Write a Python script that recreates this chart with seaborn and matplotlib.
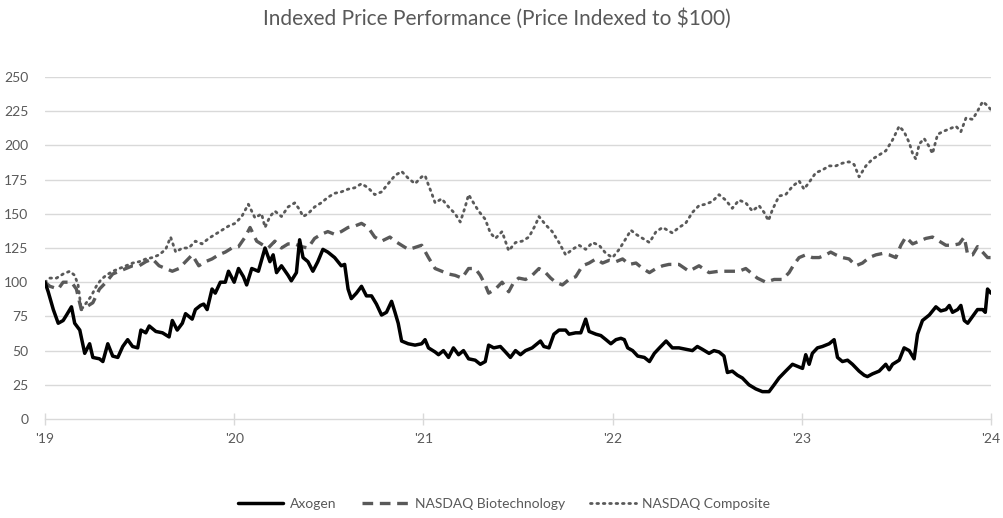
## import libraries
import pandas as pd
import numpy as np
import matplotlib
matplotlib.use('Agg')
import matplotlib.pyplot as plt
import seaborn as sns

## config.
sns.set_theme(style='white')
plt.rcParams['font.family'] = ['Lato', 'DejaVu Sans']
GREY = '#595959'
GRID = '#d9d9d9'

## data -- t = years since 1 Jan 2019
axogen_t = [0.000, 0.017, 0.044, 0.070, 0.096, 0.114, 0.140, 0.157, 0.184, 0.210, 0.236, 0.253,
            0.288, 0.306, 0.332, 0.358, 0.385, 0.411, 0.437, 0.463, 0.490, 0.507, 0.533, 0.551,
            0.586, 0.621, 0.656, 0.673, 0.699, 0.726, 0.743, 0.778, 0.795, 0.822, 0.839, 0.857,
            0.883, 0.900, 0.927, 0.953, 0.970, 1.000, 1.023, 1.049, 1.066, 1.093, 1.128, 1.163,
            1.189, 1.206, 1.224, 1.250, 1.285, 1.302, 1.329, 1.346, 1.364, 1.390, 1.416, 1.442,
            1.469, 1.495, 1.531, 1.566, 1.584, 1.602, 1.619, 1.646, 1.673, 1.699, 1.726, 1.752,
            1.779, 1.805, 1.832, 1.850, 1.867, 1.885, 1.920, 1.956, 1.991, 2.009, 2.027, 2.062,
            2.080, 2.106, 2.133, 2.159, 2.186, 2.212, 2.239, 2.274, 2.301, 2.327, 2.345, 2.372,
            2.407, 2.434, 2.460, 2.487, 2.513, 2.540, 2.575, 2.619, 2.637, 2.664, 2.690, 2.717,
            2.752, 2.770, 2.805, 2.832, 2.858, 2.876, 2.912, 2.938, 2.965, 2.991, 3.018, 3.044,
            3.062, 3.080, 3.106, 3.133, 3.168, 3.195, 3.221, 3.248, 3.283, 3.316, 3.351, 3.386,
            3.422, 3.448, 3.474, 3.510, 3.536, 3.563, 3.589, 3.607, 3.633, 3.660, 3.686, 3.721,
            3.757, 3.792, 3.827, 3.854, 3.880, 3.915, 3.951, 3.986, 4.004, 4.021, 4.039, 4.056,
            4.083, 4.109, 4.145, 4.171, 4.189, 4.215, 4.242, 4.268, 4.303, 4.330, 4.347, 4.374,
            4.409, 4.444, 4.462, 4.480, 4.515, 4.541, 4.568, 4.594, 4.612, 4.638, 4.674, 4.709,
            4.735, 4.762, 4.780, 4.797, 4.824, 4.841, 4.859, 4.877, 4.903, 4.929, 4.956, 4.970,
            4.982, 5.000]
axogen = [100, 93, 80, 70, 72, 76, 82, 70, 65, 48, 55, 45,
          44, 42, 55, 46, 45, 53, 58, 53, 52, 65, 63, 68,
          64, 63, 60, 72, 65, 70, 77, 73, 80, 83, 84, 80,
          95, 92, 100, 100, 108, 100, 110, 104, 98, 110, 108, 125,
          115, 120, 107, 112, 105, 101, 107, 131, 118, 115, 108, 115,
          124, 122, 118, 112, 113, 95, 88, 92, 97, 90, 90, 84,
          76, 78, 86, 78, 70, 57, 55, 54, 55, 58, 52, 49,
          47, 50, 45, 52, 47, 50, 44, 43, 40, 42, 54, 52,
          53, 49, 45, 50, 47, 50, 52, 57, 53, 52, 62, 65,
          65, 62, 63, 63, 73, 64, 62, 61, 58, 55, 58, 59,
          58, 52, 50, 46, 45, 42, 48, 52, 57, 52, 52, 51,
          50, 53, 51, 48, 50, 49, 46, 34, 35, 32, 30, 25,
          22, 20, 20, 25, 30, 35, 40, 38, 37, 47, 40, 48,
          52, 53, 55, 58, 45, 42, 43, 40, 35, 32, 31, 33,
          35, 40, 36, 40, 43, 52, 50, 44, 62, 72, 76, 82,
          79, 80, 83, 78, 80, 83, 72, 70, 75, 80, 80, 78,
          95, 92]

biotech_t = [0.000, 0.026, 0.070, 0.096, 0.140, 0.166, 0.192, 0.219, 0.253, 0.288, 0.323, 0.358,
             0.393, 0.428, 0.463, 0.498, 0.533, 0.568, 0.603, 0.638, 0.673, 0.708, 0.743, 0.778,
             0.813, 0.848, 0.883, 0.918, 0.953, 0.988, 1.023, 1.058, 1.084, 1.119, 1.154, 1.180,
             1.215, 1.250, 1.285, 1.320, 1.355, 1.390, 1.425, 1.460, 1.495, 1.531, 1.566, 1.602,
             1.637, 1.673, 1.708, 1.743, 1.779, 1.823, 1.850, 1.885, 1.920, 1.947, 1.991, 2.027,
             2.062, 2.097, 2.133, 2.168, 2.204, 2.239, 2.274, 2.301, 2.327, 2.345, 2.381, 2.416,
             2.451, 2.478, 2.504, 2.540, 2.575, 2.611, 2.646, 2.673, 2.699, 2.735, 2.770, 2.805,
             2.841, 2.876, 2.912, 2.947, 2.982, 3.018, 3.053, 3.088, 3.124, 3.159, 3.195, 3.230,
             3.265, 3.298, 3.351, 3.404, 3.457, 3.510, 3.563, 3.616, 3.668, 3.704, 3.730, 3.765,
             3.810, 3.854, 3.898, 3.933, 3.959, 3.986, 4.021, 4.056, 4.092, 4.127, 4.153, 4.180,
             4.215, 4.250, 4.286, 4.321, 4.356, 4.392, 4.427, 4.462, 4.497, 4.524, 4.550, 4.586,
             4.621, 4.656, 4.691, 4.727, 4.762, 4.797, 4.832, 4.859, 4.877, 4.903, 4.929, 4.956,
             4.982, 5.000]
biotech = [100, 97, 95, 100, 100, 95, 80, 82, 85, 95, 100, 106,
           108, 110, 112, 112, 115, 117, 112, 110, 108, 110, 115, 120,
           112, 115, 117, 120, 122, 125, 126, 133, 140, 130, 127, 125,
           130, 125, 128, 128, 126, 125, 132, 135, 137, 135, 137, 140,
           141, 143, 140, 133, 130, 133, 130, 127, 124, 125, 127, 118,
           110, 108, 106, 105, 103, 110, 110, 105, 98, 92, 95, 100,
           93, 100, 103, 102, 105, 110, 107, 103, 100, 98, 102, 104,
           112, 114, 117, 114, 116, 115, 117, 113, 114, 110, 107, 110,
           112, 113, 113, 108, 112, 107, 108, 108, 108, 110, 107, 103,
           100, 102, 102, 107, 113, 118, 120, 118, 118, 120, 122, 120,
           118, 117, 112, 114, 118, 120, 121, 120, 118, 127, 133, 128,
           130, 132, 133, 130, 127, 127, 128, 133, 120, 120, 126, 122,
           118, 118]

composite_t = [0.000, 0.026, 0.061, 0.096, 0.131, 0.157, 0.175, 0.192, 0.219, 0.245, 0.271, 0.297,
               0.323, 0.358, 0.393, 0.428, 0.463, 0.498, 0.533, 0.568, 0.603, 0.638, 0.664, 0.691,
               0.726, 0.760, 0.795, 0.830, 0.865, 0.900, 0.935, 0.970, 1.005, 1.040, 1.075, 1.110,
               1.145, 1.163, 1.189, 1.215, 1.250, 1.285, 1.320, 1.346, 1.364, 1.390, 1.425, 1.460,
               1.495, 1.531, 1.566, 1.602, 1.637, 1.673, 1.708, 1.743, 1.779, 1.814, 1.850, 1.885,
               1.920, 1.956, 1.991, 2.009, 2.027, 2.044, 2.062, 2.097, 2.133, 2.168, 2.195, 2.221,
               2.239, 2.265, 2.292, 2.327, 2.354, 2.381, 2.416, 2.451, 2.487, 2.522, 2.558, 2.593,
               2.611, 2.646, 2.681, 2.717, 2.752, 2.788, 2.823, 2.858, 2.894, 2.929, 2.965, 3.000,
               3.035, 3.071, 3.097, 3.124, 3.159, 3.195, 3.230, 3.265, 3.316, 3.351, 3.386, 3.422,
               3.457, 3.492, 3.527, 3.563, 3.598, 3.633, 3.668, 3.704, 3.739, 3.774, 3.801, 3.824,
               3.845, 3.880, 3.915, 3.951, 3.986, 4.012, 4.039, 4.074, 4.109, 4.145, 4.180, 4.215,
               4.250, 4.277, 4.303, 4.339, 4.374, 4.409, 4.444, 4.480, 4.515, 4.541, 4.568, 4.586,
               4.603, 4.621, 4.647, 4.674, 4.691, 4.718, 4.744, 4.780, 4.815, 4.841, 4.868, 4.903,
               4.929, 4.956, 4.982, 5.000]
composite = [100, 103, 103, 106, 108, 105, 98, 80, 85, 90, 97, 102,
             105, 108, 110, 112, 114, 115, 117, 118, 120, 124, 133, 122,
             125, 125, 130, 128, 132, 135, 138, 141, 143, 148, 157, 147,
             150, 140, 148, 152, 148, 155, 158, 153, 148, 150, 155, 158,
             162, 165, 166, 168, 169, 172, 169, 164, 166, 172, 178, 181,
             176, 172, 177, 178, 171, 165, 158, 161, 155, 150, 144, 155,
             164, 158, 152, 146, 136, 132, 137, 123, 129, 130, 133, 142,
             148, 142, 137, 129, 120, 124, 127, 124, 129, 127, 121, 118,
             124, 132, 138, 135, 132, 129, 137, 140, 136, 140, 143, 151,
             156, 157, 159, 164, 160, 154, 160, 158, 152, 156, 151, 145,
             153, 163, 164, 170, 174, 168, 173, 180, 182, 185, 185, 187,
             188, 186, 177, 185, 190, 193, 196, 204, 214, 210, 202, 194,
             190, 201, 205, 199, 194, 208, 210, 212, 214, 210, 220, 219,
             225, 232, 229, 226]

series_names = ['Axogen', 'NASDAQ Biotechnology', 'NASDAQ Composite']
year_labels = ["'19", "'20", "'21", "'22", "'23", "'24"]
y_ticks = [0, 25, 50, 75, 100, 125, 150, 175, 200, 225, 250]


## build one long dataframe
frames = []
for name, t, v in zip(series_names, [axogen_t, biotech_t, composite_t], [axogen, biotech, composite]):
    frames.append(pd.DataFrame({'year': 2019 + np.array(t), 'value': v, 'series': name}))
df = pd.concat(frames, ignore_index=True)


## plot
fig = plt.figure(figsize=(10.04, 5.18), dpi=100)
ax = fig.add_axes([0.0448, 0.1911, 0.9422, 0.6603])

for axis_y in y_ticks[1:]:
    ax.axhline(axis_y, color=GRID, lw=1, zorder=0)

sns.lineplot(data=df[df.series == 'NASDAQ Composite'], x='year', y='value', ax=ax,
             color=GREY, lw=2.0, label='NASDAQ Composite', zorder=2)
sns.lineplot(data=df[df.series == 'NASDAQ Biotechnology'], x='year', y='value', ax=ax,
             color=GREY, lw=2.4, label='NASDAQ Biotechnology', zorder=3)
sns.lineplot(data=df[df.series == 'Axogen'], x='year', y='value', ax=ax,
             color='black', lw=2.5, label='Axogen', zorder=4)

lines = ax.get_lines()
lines[-3].set_linestyle((0, (0.6, 1.7)))
lines[-3].set_dash_capstyle('round')
lines[-2].set_linestyle((0, (3.2, 2.0)))

ax.set_xlim(2019, 2024)
ax.set_ylim(0, 250)
ax.set_xticks(range(2019, 2025))
ax.set_xticklabels(year_labels)
ax.set_yticks(y_ticks)
ax.set_xlabel('')
ax.set_ylabel('')

for s in ['top', 'right', 'left']:
    ax.spines[s].set_visible(False)
ax.spines['bottom'].set_color(GRID)
ax.spines['bottom'].set_linewidth(1)
ax.tick_params(axis='x', direction='inout', length=8, width=1, color=GRID,
               labelsize=10, labelcolor=GREY, pad=6, bottom=True)
ax.tick_params(axis='y', length=0, labelsize=10, labelcolor=GREY, pad=12)

ax.get_legend().remove()
h, l = ax.get_legend_handles_labels()
order = [l.index(n) for n in series_names]
fig.legend([h[i] for i in order], [l[i] for i in order], loc='center',
           bbox_to_anchor=(0.502, 0.027), ncol=3, frameon=False, fontsize=10,
           labelcolor=GREY, handlelength=3.3, handletextpad=0.5, columnspacing=1.8)

fig.suptitle('Indexed Price Performance (Price Indexed to $100)', x=0.495, y=0.965,
             fontsize=15, color=GREY, va='center')

fig.savefig('out.png', dpi=100)
